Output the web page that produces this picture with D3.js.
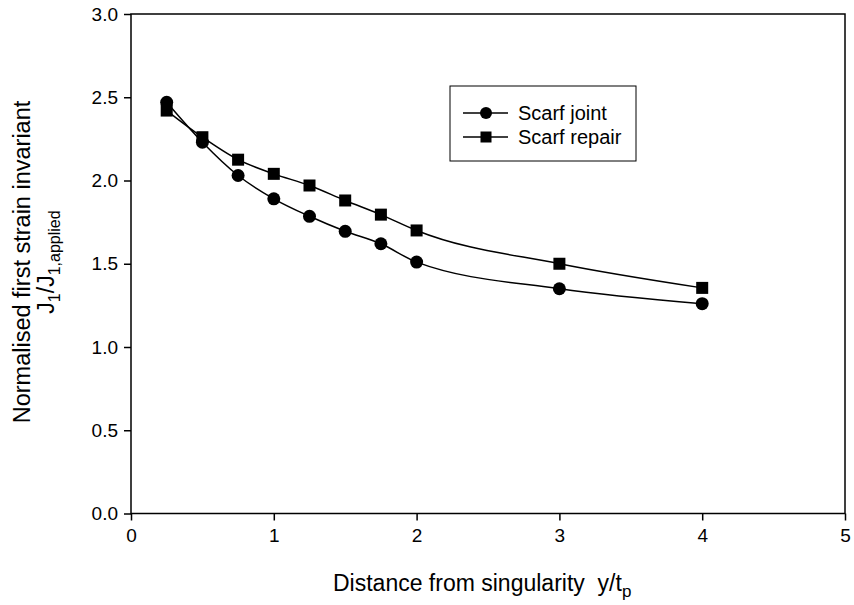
<!DOCTYPE html>
<html>
<head>
<meta charset="utf-8">
<script src="https://cdn.jsdelivr.net/npm/d3@7"></script>
<style>
  body { margin: 0; background: #fff; }
  text { font-family: "Liberation Sans", Arial, sans-serif; fill: #000; white-space: pre; }
</style>
</head>
<body>
<div id="chart"></div>
<script>
// data
const xValues = [0.25, 0.5, 0.75, 1.0, 1.25, 1.5, 1.75, 2.0, 3.0, 4.0];
const jointValues = [2.47, 2.23, 2.03, 1.89, 1.785, 1.695, 1.62, 1.51, 1.35, 1.26];
const repairValues = [2.42, 2.26, 2.125, 2.04, 1.97, 1.88, 1.795, 1.70, 1.50, 1.355];
const seriesNames = ["Scarf joint", "Scarf repair"];
const xTicks = [0, 1, 2, 3, 4, 5];
const yTicks = [0, 0.5, 1.0, 1.5, 2.0, 2.5, 3.0];

const width = 854, height = 605;
const margin = { top: 14, right: 9, bottom: 91.5, left: 131 };
const innerW = width - margin.left - margin.right;
const innerH = height - margin.top - margin.bottom;

const svg = d3.select("#chart").append("svg")
  .attr("width", width)
  .attr("height", height);

const g = svg.append("g")
  .attr("transform", "translate(" + margin.left + "," + margin.top + ")");

const x = d3.scaleLinear().domain([0, 5]).range([0, innerW]);
const y = d3.scaleLinear().domain([0, 3]).range([innerH, 0]);

// frame
g.append("rect")
  .attr("width", innerW).attr("height", innerH)
  .attr("fill", "none").attr("stroke", "#000").attr("stroke-width", 1.5);

// axes
const xAxis = g.append("g")
  .attr("transform", "translate(0," + innerH + ")")
  .call(d3.axisBottom(x).tickValues(xTicks).tickFormat(d3.format("d")).tickSizeOuter(0).tickSize(7).tickPadding(8));
const yAxis = g.append("g")
  .call(d3.axisLeft(y).tickValues(yTicks).tickFormat(d3.format(".1f")).tickSizeOuter(0).tickSize(7).tickPadding(6));

[xAxis, yAxis].forEach((a) => {
  a.select(".domain").remove();
  a.selectAll("line").attr("stroke", "#000").attr("stroke-width", 1.5);
  a.selectAll("text").style("font-size", "19px")
    .style("font-family", "'Liberation Sans', Arial, sans-serif");
});

// series
const line = d3.line()
  .x((d) => x(d[0]))
  .y((d) => y(d[1]))
  .curve(d3.curveMonotoneX);

const jointData = xValues.map((v, i) => [v, jointValues[i]]);
const repairData = xValues.map((v, i) => [v, repairValues[i]]);

g.append("path").datum(jointData)
  .attr("fill", "none").attr("stroke", "#000").attr("stroke-width", 1.5)
  .attr("d", line);
g.append("path").datum(repairData)
  .attr("fill", "none").attr("stroke", "#000").attr("stroke-width", 1.5)
  .attr("d", line);

const sq = 12;
g.selectAll(".sq").data(repairData).enter().append("rect")
  .attr("x", (d) => x(d[0]) - sq / 2)
  .attr("y", (d) => y(d[1]) - sq / 2)
  .attr("width", sq).attr("height", sq)
  .attr("fill", "#000");

g.selectAll(".dot").data(jointData).enter().append("circle")
  .attr("cx", (d) => x(d[0]))
  .attr("cy", (d) => y(d[1]))
  .attr("r", 6.5)
  .attr("fill", "#000");

// legend
const legend = svg.append("g");
legend.append("rect")
  .attr("x", 450).attr("y", 86).attr("width", 186).attr("height", 75)
  .attr("fill", "#fff").attr("stroke", "#000").attr("stroke-width", 1);

seriesNames.forEach((name, i) => {
  const ly = 113 + i * 24;
  legend.append("line")
    .attr("x1", 463).attr("x2", 508).attr("y1", ly).attr("y2", ly)
    .attr("stroke", "#000").attr("stroke-width", 1.5);
  if (i === 0) {
    legend.append("circle").attr("cx", 486).attr("cy", ly).attr("r", 6).attr("fill", "#000");
  } else {
    legend.append("rect").attr("x", 486 - 5.5).attr("y", ly - 5.5)
      .attr("width", 11).attr("height", 11).attr("fill", "#000");
  }
  legend.append("text")
    .attr("x", 518).attr("y", ly + 7)
    .style("font-size", "20px")
    .text(name);
});

// x title
const xt = svg.append("text")
  .attr("x", 333).attr("y", 591)
  .style("font-size", "23px");
xt.append("tspan").text("Distance from singularity  y/t");
xt.append("tspan").attr("dy", 6).style("font-size", "17px").text("p");

// y title
svg.append("text")
  .attr("transform", "translate(30," + 262 + ") rotate(-90)")
  .attr("text-anchor", "middle")
  .style("font-size", "23.5px")
  .text("Normalised first strain invariant");

const yt = svg.append("text")
  .attr("transform", "translate(54," + 262 + ") rotate(-90)")
  .attr("text-anchor", "middle")
  .style("font-size", "23px");
yt.append("tspan").text("J");
yt.append("tspan").attr("dy", 6).style("font-size", "16px").text("1");
yt.append("tspan").attr("dy", -6).text("/J");
yt.append("tspan").attr("dy", 6).style("font-size", "16px").text("1,applied");
</script>
</body>
</html>
